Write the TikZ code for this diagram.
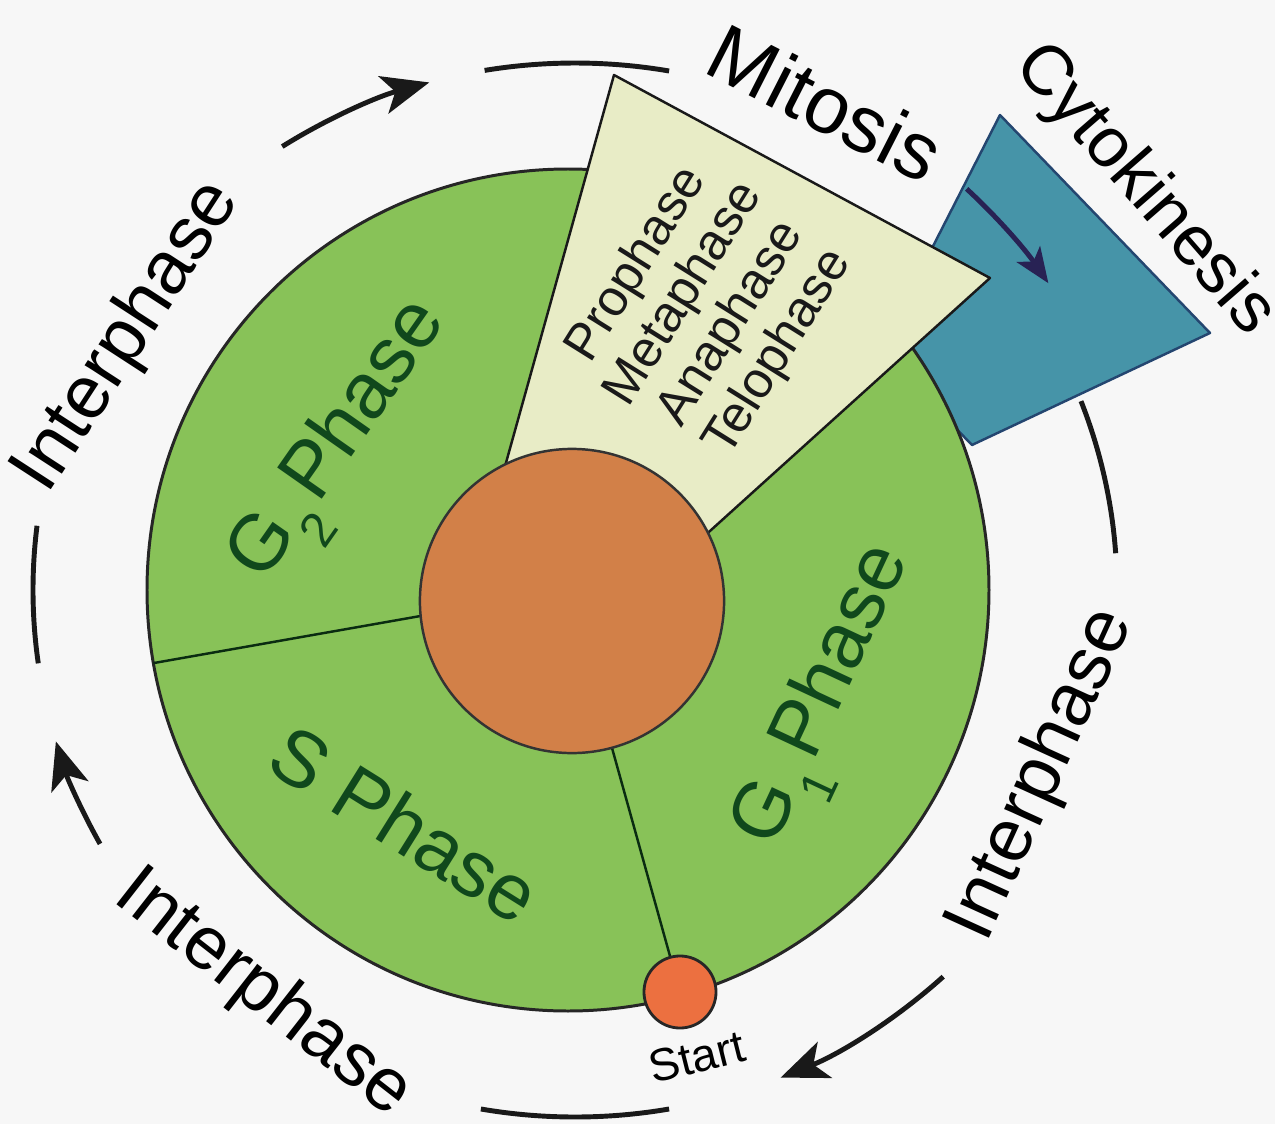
\documentclass[tikz,border=0pt]{standalone}
\usepackage{fontspec}
\setmainfont{Liberation Sans}
\usepackage{xcolor}
\usepackage{tikz}
\usetikzlibrary{arrows.meta,calc}

\definecolor{paper}{RGB}{247,247,247}
\definecolor{cellgreen}{RGB}{136,194,88}
\definecolor{phasegreen}{RGB}{16,72,28}
\definecolor{nucorange}{RGB}{210,128,72}
\definecolor{startorange}{RGB}{236,112,64}
\definecolor{mitocream}{RGB}{232,236,198}
\definecolor{cytoblue}{RGB}{70,148,168}
\definecolor{cytoedge}{RGB}{36,70,112}
\definecolor{cytoarrow}{RGB}{40,34,84}

\newcommand{\phsub}[1]{\raisebox{-9pt}{\fontsize{14}{14}\selectfont #1}\kern2pt}

\begin{document}
\begin{tikzpicture}[
  x=0.01cm, y=-0.01cm,
  every node/.style={font=\fontsize{21.3}{25}\selectfont, inner sep=0pt},
  phaselbl/.style={font=\fontsize{22.5}{26}\selectfont, text=phasegreen},
  divider/.style={draw=phasegreen!60!black, line width=0.7pt},
  ring/.style={line width=1.4pt, draw=black!90},
  ringarr/.style={ring, -{Stealth[length=13.5pt,width=11pt,inset=3.5pt]}}
]
\useasboundingbox (0,0) rectangle (1275,1124);
\fill[paper] (0,0) rectangle (1275,1124);

\coordinate (cellc) at (568,590);
\coordinate (ringc) at (575,590);
\coordinate (startc) at (680,992);

\draw[fill=cytoblue, draw=cytoedge, line width=0.7pt, line join=round]
  (1000,115) -- (1210,333) -- (972,445) -- (880,350) -- cycle;
\draw[ring, draw=cytoarrow, -{Stealth[length=10pt,width=8pt,inset=2.5pt]}]
  (ringc) ++(-46.5:569 and 553)
  arc[start angle=-46.5, end angle=-33.7, x radius=569, y radius=553];

\draw[fill=cellgreen, draw=black!85, line width=0.85pt]
  (cellc) circle[radius=421];

\draw[fill=mitocream, draw=black!90, line width=0.7pt, line join=round]
  (614,75) -- (990,278) -- (669,568) -- (487,531) -- cycle;

\draw[divider] (cellc) -- ($(cellc)+(170:421)$);
\draw[divider] (cellc) -- (startc);

\node[circle, draw=black!80, fill=nucorange, line width=0.7pt,
      minimum size=3.04cm] (nuc) at (572,601) {};
\node[circle, draw=black!85, fill=startorange, line width=0.8pt,
      minimum size=0.72cm] (start) at (startc) {};

\draw[ring] (ringc) ++(-99.6:542 and 527)
  arc[start angle=-99.6, end angle=-80, x radius=542, y radius=527];
\draw[ringarr] (ringc) ++(-122.7:542 and 527)
  arc[start angle=-122.7, end angle=-105.6, x radius=542, y radius=527];
\draw[ring] (ringc) ++(172:542 and 527)
  arc[start angle=172, end angle=187, x radius=542, y radius=527];
\draw[ringarr] (ringc) ++(151.2:542 and 527)
  arc[start angle=151.2, end angle=163.3, x radius=542, y radius=527];
\draw[ring] (ringc) ++(80:542 and 527)
  arc[start angle=80, end angle=100, x radius=542, y radius=527];
\draw[ringarr] (ringc) ++(47.2:542 and 527)
  arc[start angle=47.2, end angle=67.7, x radius=542, y radius=527];
\draw[ring] (ringc) ++(-21:542 and 527)
  arc[start angle=-21, end angle=-4, x radius=542, y radius=527];

\node[font=\fontsize{22.8}{26}\selectfont, rotate=-27] (mitosis)
  at (826,103) {Mitosis};
\node[font=\fontsize{20}{24}\selectfont, rotate=-49] (cyto)
  at (1144,190) {Cytokinesis};
\node[rotate=57] (interul) at (128,337) {Interphase};
\node[rotate=-38] (interll) at (263,994) {Interphase};
\node[rotate=65.5] (interr) at (1042,775) {Interphase};

\node[font=\fontsize{14.5}{15.8}\selectfont, text=black!90, align=center,
      rotate=58] (stages) at (708,309)
  {Prophase\\Metaphase\\Anaphase\\Telophase};

\node[phaselbl, anchor=base, rotate=55] (gtwo) at (355,452)
  {G\phsub{2}Phase};
\node[phaselbl, anchor=base, rotate=-32] (sphase) at (390,848)
  {S Phase};
\node[phaselbl, anchor=base, rotate=65] (gone) at (841,704)
  {G\phsub{1}Phase};

\node[font=\fontsize{13}{15}\selectfont, rotate=14] (startlbl)
  at (697,1057) {Start};
\end{tikzpicture}
\end{document}
